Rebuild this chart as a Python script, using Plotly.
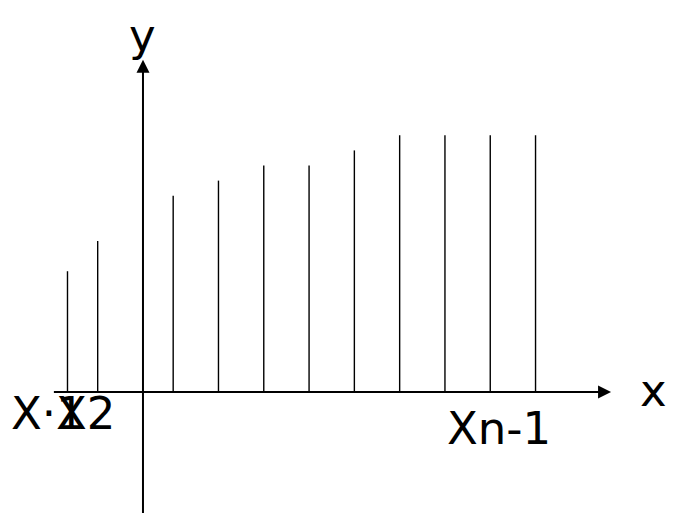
import plotly.graph_objects as go

# Data (units: 1 unit along x and y)
x_pos = [-5, -3, 2, 5, 8, 11, 14, 17, 20, 23, 26]
heights = [8, 10, 13, 14, 15, 15, 16, 17, 17, 17, 17]
x_axis_span = [-6.0, 31.0]
y_axis_span = [-9.0, 22.0]
FONT = "DejaVu Sans"

fig = go.Figure()

# stems
xs, ys = [], []
for xv, hv in zip(x_pos, heights):
    xs += [xv, xv, None]
    ys += [0, hv, None]
fig.add_trace(go.Scatter(x=xs, y=ys, mode="lines",
                         line=dict(color="black", width=1.4),
                         hoverinfo="skip", showlegend=False))

# axes lines with arrows
fig.add_annotation(x=x_axis_span[1], y=0, ax=x_axis_span[0], ay=0,
                   xref="x", yref="y", axref="x", ayref="y",
                   text="", showarrow=True, arrowhead=2, arrowsize=1.3,
                   arrowwidth=2, arrowcolor="black")
fig.add_annotation(x=0, y=y_axis_span[1], ax=0, ay=y_axis_span[0],
                   xref="x", yref="y", axref="x", ayref="y",
                   text="", showarrow=True, arrowhead=2, arrowsize=1.3,
                   arrowwidth=2, arrowcolor="black")

labels = [
    ("y", 0.0, 23.6),
    ("x", 33.8, 0.1),
    ("X·1", -6.3, -1.4),
    ("X2", -3.8, -1.4),
    ("Xn-1", 23.6, -2.4),
]
for t, lx, ly in labels:
    fig.add_annotation(x=lx, y=ly, xref="x", yref="y", text=t,
                       showarrow=False,
                       font=dict(family=FONT, size=45, color="black"))

fig.update_xaxes(range=[-8.94, 35.70], visible=False, fixedrange=True)
fig.update_yaxes(range=[-8.54, 25.43], visible=False, fixedrange=True)
fig.update_layout(width=674, height=513, autosize=False,
                  margin=dict(l=0, r=0, t=0, b=0),
                  plot_bgcolor="white", paper_bgcolor="white")

fig.write_html("out.html")
